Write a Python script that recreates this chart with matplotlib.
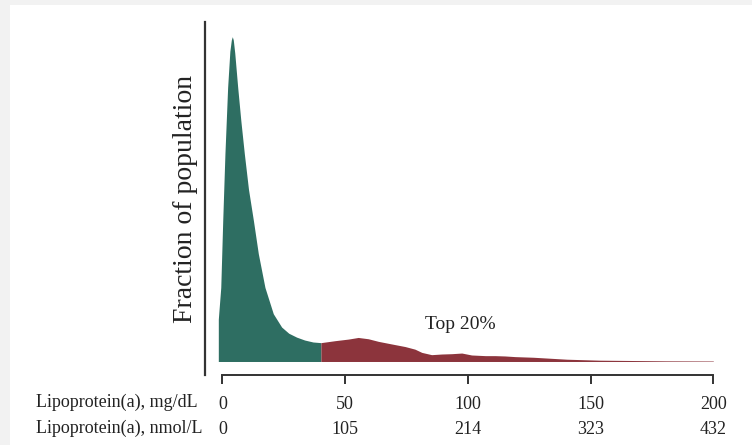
import matplotlib.pyplot as plt
from matplotlib.patches import Rectangle

# density (relative units, peak = 1)
low_mgdl = [-1.7, -1.7, -1.4, -0.7, 0.1, 1.0, 2.1, 3.0, 3.6, 4.0, 4.4, 5.0, 6.2, 7.5, 8.9,
            10.6, 12.6, 14.6, 17.3, 20.7, 24.1, 27.0, 30.2, 33.5, 36.9, 40.1]
low_dens = [0.0, 0.13, 0.16, 0.228, 0.434, 0.64, 0.844, 0.955, 0.99, 1.0, 0.99, 0.95, 0.844, 0.74, 0.64,
            0.53, 0.434, 0.332, 0.228, 0.147, 0.106, 0.087, 0.075, 0.066, 0.060, 0.058]

top_mgdl = [40.1, 45.8, 51.3, 55.3, 59.4, 63.5, 68.9, 74.4, 78.4, 81.2, 85.2, 89.3,
            93.4, 97.5, 101.5, 107.1, 111.1, 115.1, 119.2, 126.7, 140.3, 153.8,
            167.3, 181.0, 200.0]
top_dens = [0.058, 0.064, 0.069, 0.074, 0.070, 0.062, 0.054, 0.046, 0.038, 0.028, 0.021, 0.023,
            0.024, 0.026, 0.020, 0.018, 0.018, 0.017, 0.015, 0.013, 0.007, 0.004,
            0.003, 0.002, 0.0015]

ticks_mgdl = [0, 50, 100, 150, 200]
ticks_nmol = ['0', '105', '214', '323', '432']

green = '#2e6e62'
red = '#8c343c'
ink = '#222222'

plt.rcParams['font.family'] = ['Liberation Serif', 'DejaVu Serif']

fig = plt.figure(figsize=(7.52, 4.45), dpi=100, facecolor='#f2f2f2')
fig.patches.append(Rectangle((10 / 752, 0), 1, (445 - 5) / 445, transform=fig.transFigure,
                             facecolor='white', edgecolor='none', zorder=-10))

ax = fig.add_axes([204.5 / 752, 70 / 445, (713.3 - 204.5) / 752, 353 / 445])
ax.set_facecolor('none')

ax.fill_between(low_mgdl, low_dens, 0, color=green, lw=0)
ax.fill_between(top_mgdl, top_dens, 0, color=red, lw=0)

ax.set_xlim(-7.33, 200)
ax.set_ylim(-0.0416, 1.0453)

for s in ['top', 'right']:
    ax.spines[s].set_visible(False)
ax.spines['left'].set_color('#333333')
ax.spines['left'].set_linewidth(1.6)
ax.spines['bottom'].set_color('#333333')
ax.spines['bottom'].set_linewidth(1.4)
ax.spines['bottom'].set_bounds(0, 200)
ax.set_yticks([])

labels = [a + '\n' + b for a, b in zip([str(t) for t in ticks_mgdl], ticks_nmol)]
ax.set_xticks(ticks_mgdl)
ax.set_xticklabels(labels, fontsize=13, color=ink, linespacing=1.62)
ax.tick_params(axis='x', length=6.5, width=1.4, color='#333333', pad=8.5)

# row titles, left aligned at the same x
x_left = (36 - 204.5) / 508.8
ax.text(x_left, (375 - 402) / 353, 'Lipoprotein(a), mg/dL', transform=ax.transAxes,
        ha='left', va='center', fontsize=13, color=ink)
ax.text(x_left, (375 - 428.5) / 353, 'Lipoprotein(a), nmol/L', transform=ax.transAxes,
        ha='left', va='center', fontsize=13, color=ink)

ax.text(97, 0.115, 'Top 20%', ha='center', va='center', fontsize=14, color=ink)
ax.set_ylabel('Fraction of population', fontsize=20, color=ink, labelpad=5)

fig.savefig('out.png', dpi=100, facecolor=fig.get_facecolor())
